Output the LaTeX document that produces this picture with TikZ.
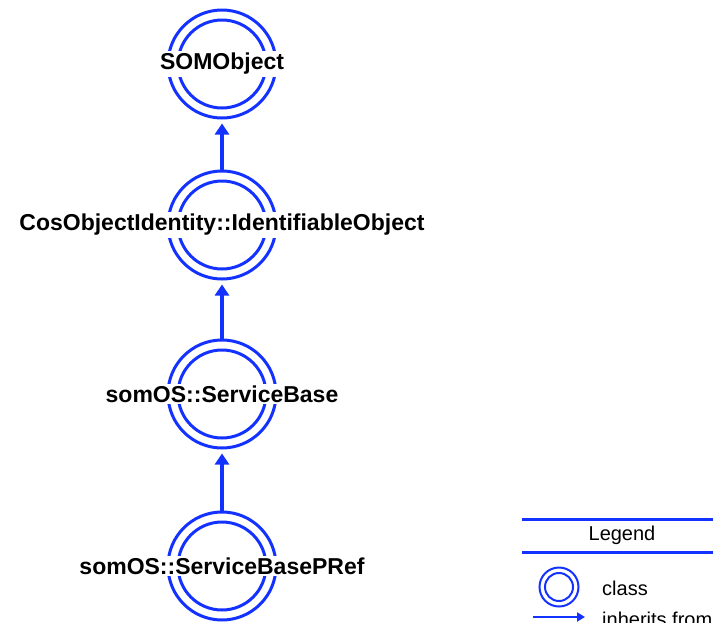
\documentclass[tikz,border=0pt]{standalone}
\usepackage{fontspec}
\setmainfont{Liberation Sans}
\usetikzlibrary{arrows.meta}
\definecolor{umlblue}{RGB}{20,50,255}
\tikzset{
  outerc/.style={circle, draw=umlblue, line width=3pt, minimum size=108pt, inner sep=0pt},
  innerc/.style={circle, draw=umlblue, line width=3pt, minimum size=88pt, inner sep=0pt},
  clslbl/.style={font=\bfseries\fontsize{23}{23}\selectfont, inner sep=2pt, fill=white},
  inh/.style={draw=umlblue, line width=3.5pt, shorten >=4pt, -{Triangle[length=11pt,width=14pt]}},
  leg/.style={font=\fontsize{20}{20}\selectfont, inner sep=0pt, anchor=west},
}
\begin{document}
\begin{tikzpicture}[x=1pt,y=-1pt]
\useasboundingbox (0,0) rectangle (713,622);
\clip (0,0) rectangle (713,622);
\node[outerc] (c1) at (222,64) {};
\node[innerc] (c1i) at (222,64) {};
\node[clslbl] (t1) at (222,64) {SOMObject};
\node[outerc] (c2) at (222,225) {};
\node[innerc] (c2i) at (222,225) {};
\node[clslbl] (t2) at (222,225) {CosObjectIdentity::IdentifiableObject};
\node[outerc] (c3) at (222,394) {};
\node[innerc] (c3i) at (222,394) {};
\node[clslbl] (t3) at (222,394) {somOS::ServiceBase};
\node[outerc] (c4) at (222,566) {};
\node[innerc] (c4i) at (222,566) {};
\node[clslbl] (t4) at (222,566) {somOS::ServiceBasePRef};
\draw[inh] (c2.north) -- (c1.south);
\draw[inh] (c3.north) -- (c2.south);
\draw[inh] (c4.north) -- (c3.south);
% legend
\coordinate (l1a) at (522,519);
\coordinate (l1b) at (713,519);
\coordinate (l2a) at (522,552);
\coordinate (l2b) at (713,552);
\draw[umlblue, line width=3pt] (l1a) -- (l1b);
\draw[umlblue, line width=3pt] (l2a) -- (l2b);
\node[font=\fontsize{20}{20}\selectfont, inner sep=0pt] (lg) at (622,535) {Legend};
\node[circle, draw=umlblue, line width=2pt, minimum size=39pt, inner sep=0pt] (lc) at (559,587) {};
\node[circle, draw=umlblue, line width=2pt, minimum size=28pt, inner sep=0pt] (lci) at (559,587) {};
\node[leg] (lct) at (602,588) {class};
\coordinate (la) at (533,617);
\coordinate (lb) at (585,617);
\draw[draw=umlblue, line width=2pt, -{Triangle[length=8pt,width=9pt]}] (la) -- (lb);
\node[leg] (lit) at (602,619) {inherits from};
\end{tikzpicture}
\end{document}
